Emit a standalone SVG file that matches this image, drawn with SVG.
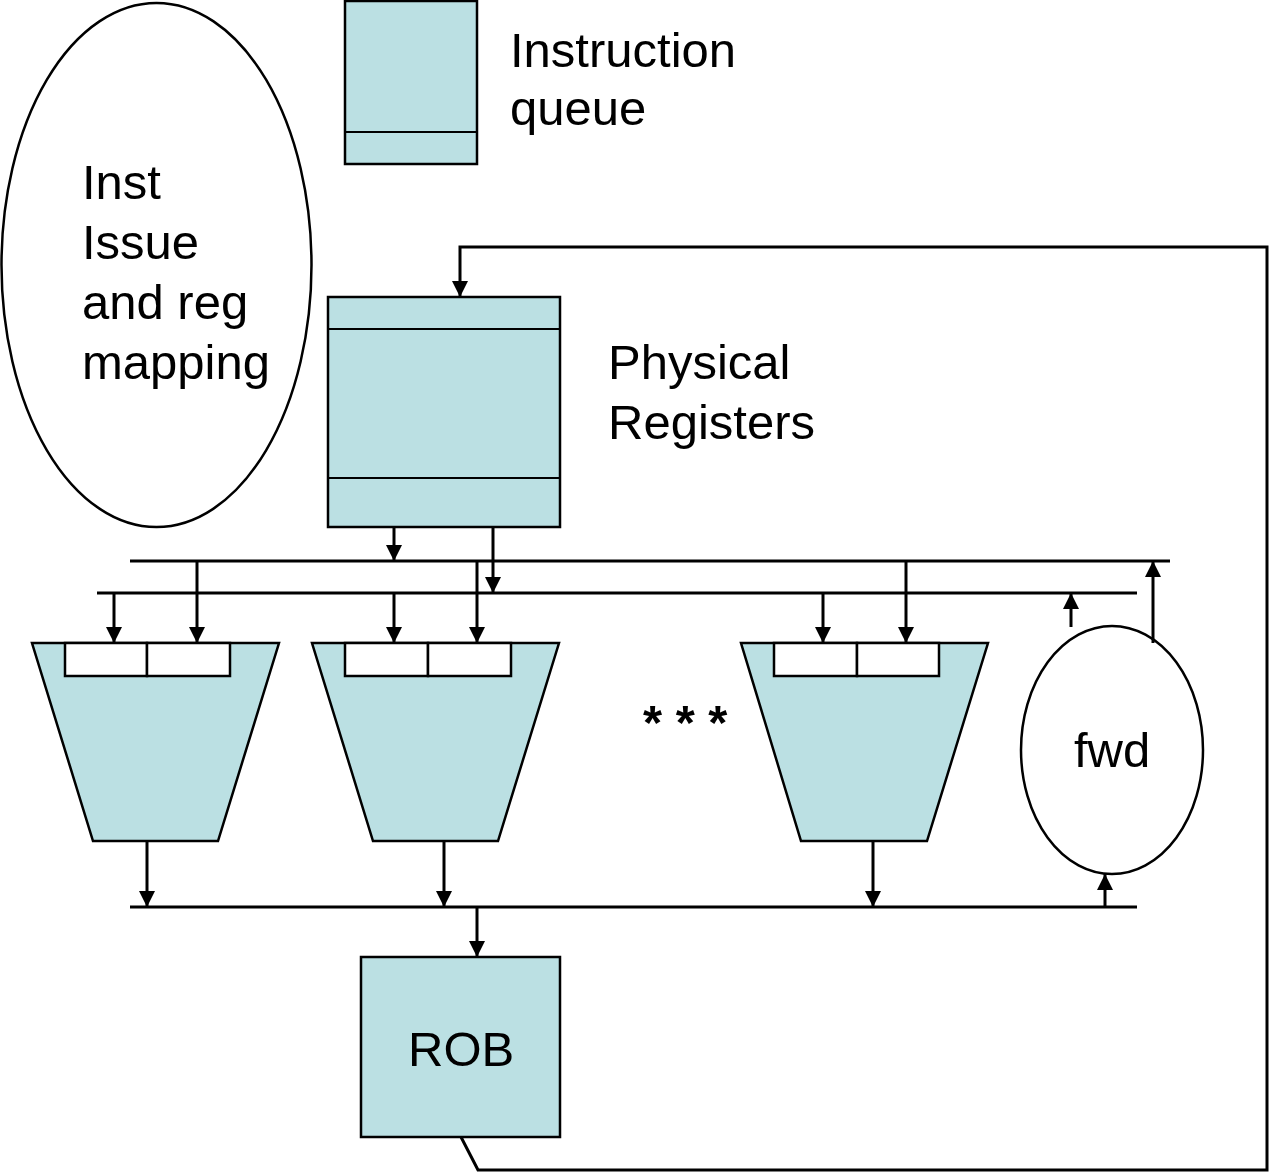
<svg xmlns="http://www.w3.org/2000/svg" width="1270" height="1172" viewBox="0 0 1270 1172">
<style>
.box{fill:#BBE0E3;stroke:#000;stroke-width:2.5}
.slot{fill:#fff;stroke:#000;stroke-width:2.5}
.oval{fill:#fff;stroke:#000;stroke-width:2.5}
.sep{stroke:#000;stroke-width:2}
.bus{stroke:#000;stroke-width:3;fill:none}
.wire{stroke:#000;stroke-width:3;fill:none}
.lbl{font-family:"Liberation Sans",Arial,sans-serif;font-size:49px;fill:#000}
</style>
<defs>
<marker id="ah" markerUnits="userSpaceOnUse" viewBox="0 0 16 16" refX="16" refY="8" markerWidth="16" markerHeight="16" orient="auto">
<path d="M0,0 L16,8 L0,16 z" fill="#000"/>
</marker>
</defs>
<rect width="1270" height="1172" fill="#fff"/>

<g id="issue">
<ellipse class="oval" cx="156.5" cy="265" rx="155" ry="262"/>
<text class="lbl" x="82" y="199">Inst</text>
<text class="lbl" x="82" y="259">Issue</text>
<text class="lbl" x="82" y="319">and reg</text>
<text class="lbl" x="82" y="379">mapping</text>
</g>

<g id="iqueue">
<rect class="box" x="345" y="1" width="132" height="163"/>
<line class="sep" x1="345" y1="132" x2="477" y2="132"/>
<text class="lbl" x="510" y="67">Instruction</text>
<text class="lbl" x="510" y="125">queue</text>
</g>

<g id="physreg">
<rect class="box" x="328" y="297" width="232" height="230"/>
<line class="sep" x1="328" y1="329" x2="560" y2="329"/>
<line class="sep" x1="328" y1="478" x2="560" y2="478"/>
<text class="lbl" x="608" y="379">Physical</text>
<text class="lbl" x="608" y="439">Registers</text>
</g>

<g id="fu1">
<polygon class="box" points="32,643 279,643 218,841 93,841"/>
<rect class="slot" x="65" y="643" width="82" height="33"/>
<rect class="slot" x="147" y="643" width="83" height="33"/>
</g>

<g id="fu2">
<polygon class="box" points="312,643 559,643 498,841 373,841"/>
<rect class="slot" x="345" y="643" width="83" height="33"/>
<rect class="slot" x="428" y="643" width="83" height="33"/>
</g>

<g id="fu3">
<polygon class="box" points="741,643 988,643 927,841 801,841"/>
<rect class="slot" x="774" y="643" width="83" height="33"/>
<rect class="slot" x="857" y="643" width="82" height="33"/>
</g>

<g id="dots">
<text class="lbl" x="643" y="739" font-weight="bold">* * *</text>
</g>

<g id="fwd">
<ellipse class="oval" cx="1112" cy="750" rx="91" ry="124"/>
<text class="lbl" x="1074" y="767">fwd</text>
</g>

<g id="rob">
<rect class="box" x="361" y="957" width="199" height="180"/>
<text class="lbl" x="408" y="1066">ROB</text>
</g>

<g id="connectors">
<line class="bus" x1="130" y1="561" x2="1170" y2="561"/>
<line class="bus" x1="97" y1="593" x2="1137" y2="593"/>
<line class="bus" x1="130" y1="907" x2="1137" y2="907"/>

<line class="wire" x1="394" y1="527" x2="394" y2="561" marker-end="url(#ah)"/>
<line class="wire" x1="493" y1="527" x2="493" y2="593" marker-end="url(#ah)"/>

<line class="wire" x1="114" y1="593" x2="114" y2="643" marker-end="url(#ah)"/>
<line class="wire" x1="197" y1="561" x2="197" y2="643" marker-end="url(#ah)"/>
<line class="wire" x1="394" y1="593" x2="394" y2="643" marker-end="url(#ah)"/>
<line class="wire" x1="477" y1="561" x2="477" y2="643" marker-end="url(#ah)"/>
<line class="wire" x1="823" y1="593" x2="823" y2="643" marker-end="url(#ah)"/>
<line class="wire" x1="906" y1="561" x2="906" y2="643" marker-end="url(#ah)"/>

<line class="wire" x1="147" y1="841" x2="147" y2="907" marker-end="url(#ah)"/>
<line class="wire" x1="444" y1="841" x2="444" y2="907" marker-end="url(#ah)"/>
<line class="wire" x1="873" y1="841" x2="873" y2="907" marker-end="url(#ah)"/>

<line class="wire" x1="1071" y1="627" x2="1071" y2="593" marker-end="url(#ah)"/>
<line class="wire" x1="1153" y1="643" x2="1153" y2="561" marker-end="url(#ah)"/>
<line class="wire" x1="1105" y1="907" x2="1105" y2="874" marker-end="url(#ah)"/>

<line class="wire" x1="477" y1="907" x2="477" y2="957" marker-end="url(#ah)"/>

<polyline class="wire" points="461,1137 478,1170 1267,1170 1267,247 460,247 460,297" marker-end="url(#ah)"/>
</g>
</svg>
